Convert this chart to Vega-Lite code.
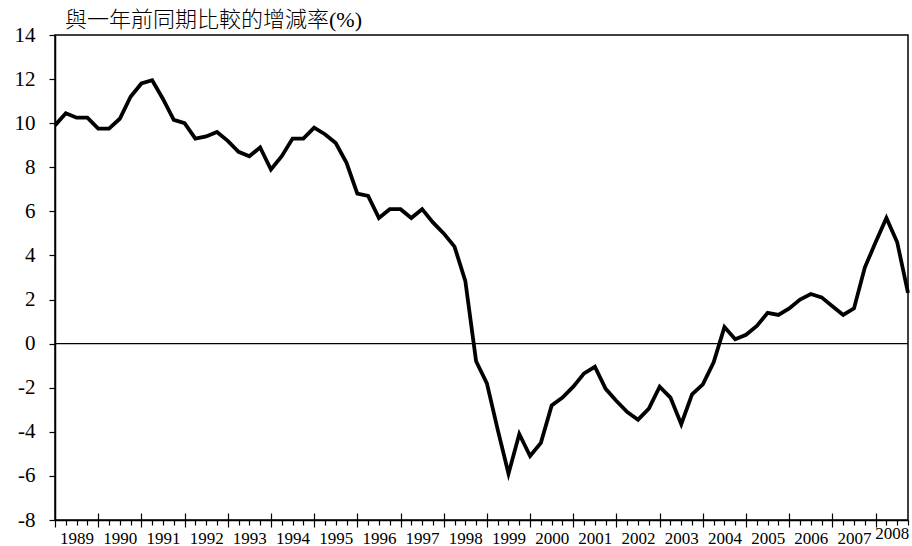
{
  "$schema": "https://vega.github.io/schema/vega-lite/v6.json",
  "width": 853,
  "height": 485,
  "autosize": {"type": "none"},
  "padding": {"left": 55, "top": 35, "right": 4, "bottom": 26},
  "background": "white",
  "title": {
    "text": "與一年前同期比較的增減率(%)",
    "anchor": "start",
    "frame": "group",
    "dx": 10,
    "offset": -8,
    "font": "'Liberation Serif', 'Noto Sans CJK TC'",
    "fontSize": 22,
    "fontWeight": 300,
    "color": "black"
  },
  "config": {
    "view": {"stroke": "black", "strokeWidth": 1.5},
    "axis": {
      "grid": false,
      "labelFont": "Liberation Serif",
      "labelColor": "black",
      "tickColor": "black",
      "domainColor": "black",
      "domainWidth": 1.5,
      "tickWidth": 1.2,
      "title": null
    }
  },
  "datasets": {
    "series": [
      {"t": 0, "v": 9.9}, {"t": 1, "v": 10.45}, {"t": 2, "v": 10.25}, {"t": 3, "v": 10.25},
      {"t": 4, "v": 9.75}, {"t": 5, "v": 9.75}, {"t": 6, "v": 10.2}, {"t": 7, "v": 11.2},
      {"t": 8, "v": 11.8}, {"t": 9, "v": 11.95}, {"t": 10, "v": 11.1}, {"t": 11, "v": 10.15},
      {"t": 12, "v": 10.0}, {"t": 13, "v": 9.3}, {"t": 14, "v": 9.4}, {"t": 15, "v": 9.6},
      {"t": 16, "v": 9.2}, {"t": 17, "v": 8.7}, {"t": 18, "v": 8.5}, {"t": 19, "v": 8.9},
      {"t": 20, "v": 7.9}, {"t": 21, "v": 8.5}, {"t": 22, "v": 9.3}, {"t": 23, "v": 9.3},
      {"t": 24, "v": 9.8}, {"t": 25, "v": 9.5}, {"t": 26, "v": 9.1}, {"t": 27, "v": 8.2},
      {"t": 28, "v": 6.8}, {"t": 29, "v": 6.7}, {"t": 30, "v": 5.7}, {"t": 31, "v": 6.1},
      {"t": 32, "v": 6.1}, {"t": 33, "v": 5.7}, {"t": 34, "v": 6.1}, {"t": 35, "v": 5.5},
      {"t": 36, "v": 5.0}, {"t": 37, "v": 4.4}, {"t": 38, "v": 2.85}, {"t": 39, "v": -0.8},
      {"t": 40, "v": -1.8}, {"t": 41, "v": -3.9}, {"t": 42, "v": -5.9}, {"t": 43, "v": -4.1},
      {"t": 44, "v": -5.1}, {"t": 45, "v": -4.5}, {"t": 46, "v": -2.8}, {"t": 47, "v": -2.45},
      {"t": 48, "v": -1.95}, {"t": 49, "v": -1.35}, {"t": 50, "v": -1.05}, {"t": 51, "v": -2.05},
      {"t": 52, "v": -2.6}, {"t": 53, "v": -3.1}, {"t": 54, "v": -3.45}, {"t": 55, "v": -2.95},
      {"t": 56, "v": -1.95}, {"t": 57, "v": -2.45}, {"t": 58, "v": -3.65}, {"t": 59, "v": -2.3},
      {"t": 60, "v": -1.85}, {"t": 61, "v": -0.85}, {"t": 62, "v": 0.75}, {"t": 63, "v": 0.2},
      {"t": 64, "v": 0.4}, {"t": 65, "v": 0.8}, {"t": 66, "v": 1.4}, {"t": 67, "v": 1.3},
      {"t": 68, "v": 1.6}, {"t": 69, "v": 2.0}, {"t": 70, "v": 2.25}, {"t": 71, "v": 2.1},
      {"t": 72, "v": 1.7}, {"t": 73, "v": 1.3}, {"t": 74, "v": 1.6}, {"t": 75, "v": 3.45},
      {"t": 76, "v": 4.6}, {"t": 77, "v": 5.7}, {"t": 78, "v": 4.6}, {"t": 79, "v": 2.3}
    ]
  },
  "resolve": {"scale": {"x": "independent"}},
  "layer": [
    {
      "data": {"values": [{"ref": 0}]},
      "mark": {"type": "rule", "color": "black", "strokeWidth": 1.3},
      "encoding": {
        "y": {
          "field": "ref",
          "type": "quantitative",
          "scale": {"domain": [-8, 14], "nice": false, "zero": false},
          "axis": {
            "values": [-8,-7.5,-7,-6.5,-6,-5.5,-5,-4.5,-4,-3.5,-3,-2.5,-2,-1.5,-1,-0.5,0,0.5,1,1.5,2,2.5,3,3.5,4,4.5,5,5.5,6,6.5,7,7.5,8,8.5,9,9.5,10,10.5,11,11.5,12,12.5,13,13.5,14],
            "labelExpr": "datum.value % 2 == 0 ? '' + datum.value : ''",
            "labelFontSize": 21,
            "labelPadding": 14,
            "tickSize": 6,
            "labelOverlap": false,
            "labelFlush": false,
            "labelBound": false
          }
        }
      }
    },
    {
      "data": {"name": "series"},
      "mark": {"type": "line", "color": "black", "strokeWidth": 3.8, "strokeJoin": "miter"},
      "encoding": {
        "x": {
          "field": "t",
          "type": "quantitative",
          "scale": {"domain": [0, 79], "nice": false, "zero": false},
          "axis": {
            "orient": "bottom",
            "values": [0,1,2,3,4,5,6,7,8,9,10,11,12,13,14,15,16,17,18,19,20,21,22,23,24,25,26,27,28,29,30,31,32,33,34,35,36,37,38,39,40,41,42,43,44,45,46,47,48,49,50,51,52,53,54,55,56,57,58,59,60,61,62,63,64,65,66,67,68,69,70,71,72,73,74,75,76,77,77.5,78,79],
            "labelExpr": "datum.value == 77.5 ? '2008' : (datum.value % 4 == 2 && datum.value < 76 ? '' + (1989 + (datum.value - 2) / 4) : '')",
            "labelFontSize": 17,
            "labelPadding": 5,
            "tickSize": {"condition": [{"test": "datum.value % 1 != 0", "value": 0}, {"test": "datum.value % 4 == 0", "value": 7}], "value": 5},
            "labelOverlap": false,
            "labelFlush": false,
            "labelBound": false
          }
        },
        "y": {"field": "v", "type": "quantitative"}
      }
    },
    {
      "data": {"name": "series"},
      "mark": {"type": "point", "opacity": 0},
      "encoding": {
        "x": {
          "field": "t",
          "type": "quantitative",
          "scale": {"domain": [0, 79], "nice": false, "zero": false},
          "axis": {
            "orient": "bottom",
            "values": [4,8,12,16,20,24,28,32,36,40,44,48,52,56,60,64,68,72,76],
            "tickSize": -7,
            "labels": false,
            "domain": false
          }
        },
        "y": {"field": "v", "type": "quantitative"}
      }
    }
  ]
}
